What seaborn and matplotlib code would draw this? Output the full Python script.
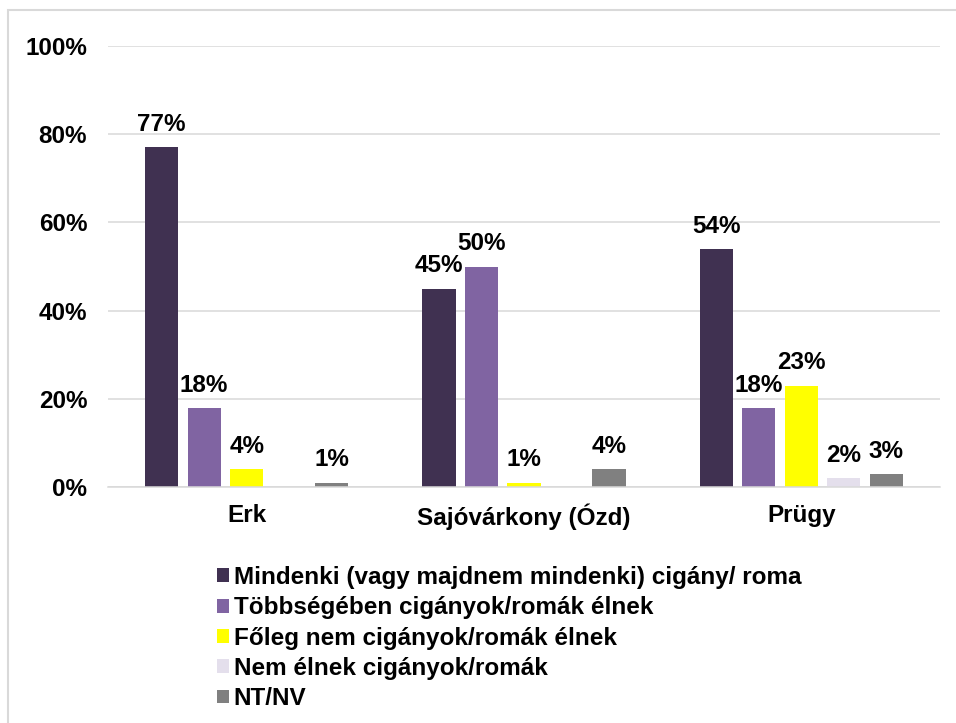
import numpy as np
import pandas as pd
import seaborn as sns
import matplotlib.pyplot as plt
from matplotlib.patches import Rectangle

categories = ["Erk", "Sajóvárkony (Ózd)", "Prügy"]
series = [
    "Mindenki (vagy majdnem mindenki) cigány/ roma",
    "Többségében cigányok/romák élnek",
    "Főleg nem cigányok/romák élnek",
    "Nem élnek cigányok/romák",
    "NT/NV",
]
mindenki = [77, 45, 54]
tobbseg = [18, 50, 18]
foleg_nem = [4, 1, 23]
nem_elnek = [np.nan, np.nan, 2]
ntnv = [1, 4, 3]
colors = ["#403151", "#8064A2", "#FFFF00", "#E4DFEC", "#808080"]
yticks = [0, 20, 40, 60, 80, 100]

rows = []
for s, vals in zip(series, [mindenki, tobbseg, foleg_nem, nem_elnek, ntnv]):
    for c, v in zip(categories, vals):
        rows.append({"cat": c, "series": s, "value": v})
df = pd.DataFrame(rows)

sns.set_style("white")
plt.rcParams["font.family"] = ["Liberation Sans", "DejaVu Sans"]
plt.rcParams["font.weight"] = "bold"
plt.rcParams["text.color"] = "black"
plt.rcParams["xtick.color"] = "black"
plt.rcParams["ytick.color"] = "black"

FS = 17.5

fig = plt.figure(figsize=(9.56, 7.23), dpi=100)
ax = fig.add_axes([108 / 956, 1 - 487 / 723, (940 - 108) / 956, (487 - 46) / 723])

sns.barplot(data=df.dropna(), x="cat", y="value", hue="series", order=categories,
            hue_order=series, palette=colors, width=0.767, gap=0.22,
            ax=ax, legend=True, saturation=1, edgecolor="none", linewidth=0)

for cont in ax.containers:
    ax.bar_label(cont, fmt="{:.0f}%", padding=8, fontsize=FS, fontweight="bold", color="black")

ax.set_ylim(0, 100)
ax.set_xlim(-0.5, 2.5)
ax.set_yticks(yticks)
ax.set_yticklabels([f"{t}%" for t in yticks], fontsize=FS, fontweight="bold")
ax.tick_params(axis="y", length=0, pad=15)
ax.tick_params(axis="x", length=0, pad=12, labelsize=FS)
for lab in ax.get_xticklabels():
    lab.set_fontweight("bold")
ax.set_xlabel("")
ax.set_ylabel("")
ax.yaxis.grid(True, color="#D9D9D9", linewidth=1.1)
ax.set_axisbelow(True)
for side in ["left", "right", "top"]:
    ax.spines[side].set_visible(False)
ax.spines["bottom"].set_color("#D9D9D9")
ax.spines["bottom"].set_linewidth(1.1)

handles, labels = ax.get_legend_handles_labels()
ax.get_legend().remove()
fig.legend(handles, labels, loc="upper left", bbox_to_anchor=(217 / 956, 1 - 566 / 723),
           frameon=False, handlelength=0.5, handleheight=0.5,
           handletextpad=0.18, labelspacing=0.3, borderaxespad=0, borderpad=0,
           prop={"weight": "bold", "size": FS}, labelcolor="black")

fig.patches.append(Rectangle((8 / 956, -0.1), 1.2, 1 - 10 / 723 + 0.1, fill=False,
                             edgecolor="#D9D9D9", linewidth=1.5, transform=fig.transFigure))

fig.savefig("out.png", dpi=100)
